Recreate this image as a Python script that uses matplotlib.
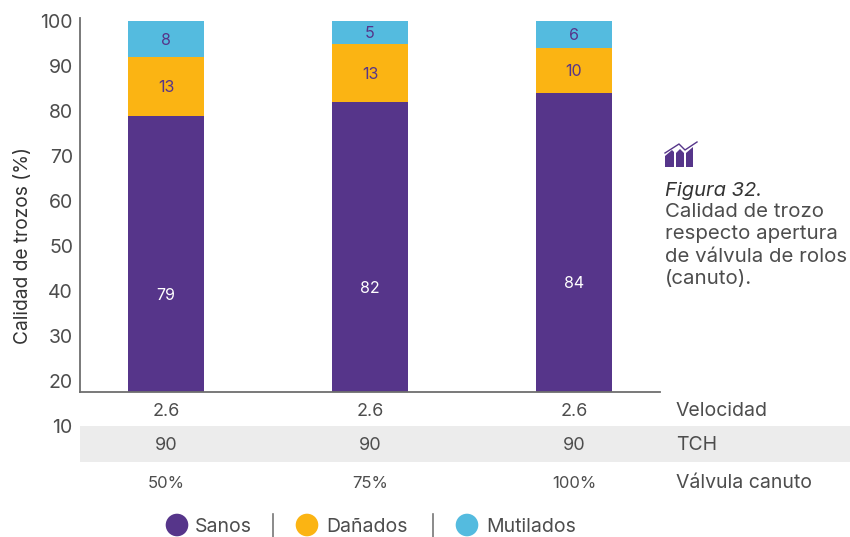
import matplotlib

matplotlib.use("Agg")
import matplotlib.pyplot as plt
from matplotlib.patches import Circle, Polygon, Rectangle

plt.rcParams["font.family"] = ["Inter", "DejaVu Sans"]

valvula = ["50%", "75%", "100%"]
velocidad = ["2.6", "2.6", "2.6"]
tch = ["90", "90", "90"]
sanos = [79, 82, 84]
danados = [13, 13, 10]
mutilados = [8, 5, 6]
yticks = [20, 30, 40, 50, 60, 70, 80, 90, 100]
row_names = ["Velocidad", "TCH", "Válvula canuto"]

purple = "#56358a"
orange = "#fbb413"
blue = "#54bbdf"
grey = "#4d4d4d"

fig = plt.figure(figsize=(8.5, 5.37), dpi=100)

# overlay in pixels for everything around the chart
bg = fig.add_axes([0, 0, 1, 1], zorder=0)
bg.set_xlim(0, 850)
bg.set_ylim(537, 0)
bg.axis("off")

ax = fig.add_axes([80 / 850, 1 - 392 / 537, 580 / 850, 374 / 537], zorder=1)
ax.patch.set_alpha(0)
ax.set_xlim(-0.4216, 2.4216)
ax.set_ylim(17.55, 100.67)

x = list(range(len(sanos)))
base2 = [a + b for a, b in zip(sanos, danados)]
ax.bar(x, sanos, width=0.3725, color=purple)
ax.bar(x, danados, width=0.3725, bottom=sanos, color=orange)
ax.bar(x, mutilados, width=0.3725, bottom=base2, color=blue)

for i in x:
    ax.text(i, sanos[i] / 2 - 0.4, sanos[i], ha="center", va="center", fontsize=11.5, color="white")
    ax.text(i, sanos[i] + danados[i] / 2 - 0.3, danados[i], ha="center", va="center",
            fontsize=11.5, color=purple)
    ax.text(i, base2[i] + mutilados[i] / 2 - 0.3, mutilados[i], ha="center", va="center",
            fontsize=11.5, color=purple)

ax.set_xticks([])
ax.set_yticks(yticks)
ax.tick_params(axis="y", length=0, pad=5, labelsize=14, labelcolor=grey)
ax.text(-0.0125, 9.6, "10", transform=ax.get_yaxis_transform(), ha="right", va="center",
        fontsize=14, color=grey, clip_on=False)
ax.set_ylabel("Calidad de trozos (%)", fontsize=13.8, color="#333333", va="center")
ax.yaxis.set_label_coords(-0.098, 0.393)
for s in ["top", "right"]:
    ax.spines[s].set_visible(False)
for s in ["left", "bottom"]:
    ax.spines[s].set_color("#6e6e6e")
    ax.spines[s].set_linewidth(1.3)

# rows under the chart
bg.add_patch(Rectangle((80, 426), 770, 36, color="#ececec", lw=0))
for i in x:
    cx = 166 + 204 * i
    bg.text(cx, 411, velocidad[i], ha="center", va="center", fontsize=13, color=grey)
    bg.text(cx, 445, tch[i], ha="center", va="center", fontsize=13, color=grey)
    bg.text(cx, 483, valvula[i], ha="center", va="center", fontsize=12, color=grey)
for name, py in zip(row_names, [411, 445, 483]):
    bg.text(676, py, name, ha="left", va="center", fontsize=14, color=grey)

# legend
for cx, tx, c, name in [(177, 195, purple, "Sanos"), (307, 326, orange, "Dañados"),
                        (467, 486, blue, "Mutilados")]:
    bg.add_patch(Circle((cx, 525), 11.3, color=c, lw=0))
    bg.text(tx, 527, name, ha="left", va="center", fontsize=14, color=grey)
for px in [273, 433]:
    bg.plot([px, px], [514, 537], color="#777777", lw=1.2)

# icon
for pts in [[(665, 167), (665, 156), (672, 150), (674, 152), (674, 167)],
            [(676, 167), (676, 153), (680, 149), (684, 153), (684, 167)],
            [(686, 167), (686, 153), (693, 147), (693, 167)]]:
    bg.add_patch(Polygon(pts, color=purple, lw=0))
bg.plot([665, 679, 685, 697], [153, 144, 150, 142], color=purple, lw=1.0)

# caption
bg.text(665, 191, "Figura 32.", ha="left", va="center", fontsize=14.5, style="italic", color="#333333")
for line, py in zip(["Calidad de trozo", "respecto apertura", "de válvula de rolos", "(canuto)."],
                    [212, 234, 257, 279]):
    bg.text(665, py, line, ha="left", va="center", fontsize=14.7, color=grey)

fig.savefig("out.png", dpi=100)
